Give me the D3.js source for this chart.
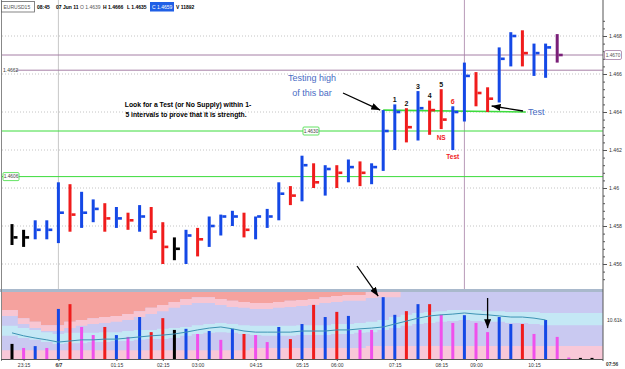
<!DOCTYPE html>
<html>
<head>
<meta charset="utf-8">
<script src="https://cdn.jsdelivr.net/npm/d3@7"></script>
<style>
  body { margin: 0; background: #fff; }
  svg { display: block; font-family: "Liberation Sans", Arial, sans-serif; }
</style>
</head>
<body>
<svg id="chart" width="625" height="369"></svg>
<script>
// 15 minute bars, 23:00 -> 10:45
const times = ["23:00","23:15","23:30","23:45","00:00","00:15","00:30","00:45","01:00","01:15","01:30","01:45",
  "02:00","02:15","02:30","02:45","03:00","03:15","03:30","03:45","04:00","04:15","04:30","04:45",
  "05:00","05:15","05:30","05:45","06:00","06:15","06:30","06:45","07:00","07:15","07:30","07:45",
  "08:00","08:15","08:30","08:45","09:00","09:15","09:30","09:45","10:00","10:15","10:30","10:45"];

const highs = [1.4581,1.4578,1.4583,1.4583,1.4603,1.4602,1.4598,1.4594,1.4592,1.4590,1.4587,1.4591,
  1.4590,1.4582,1.4574,1.4578,1.4579,1.4585,1.4586,1.4588,1.4587,1.4585,1.4589,1.4603,
  1.4601,1.4617,1.4613,1.4612,1.4612,1.4615,1.4614,1.4613,1.4641,1.4644,1.4642,1.4651,
  1.4646,1.4652,1.4643,1.4666,1.4661,1.4653,1.4674,1.4682,1.4683,1.4676,1.4676,1.4681];
const lows = [1.4570,1.4569,1.4573,1.4573,1.4571,1.4577,1.4579,1.4582,1.4577,1.4579,1.4578,1.4577,
  1.4573,1.4560,1.4562,1.4560,1.4564,1.4569,1.4575,1.4580,1.4574,1.4573,1.4579,1.4583,
  1.4591,1.4593,1.4600,1.4596,1.4600,1.4603,1.4601,1.4602,1.4609,1.4620,1.4624,1.4625,
  1.4628,1.4631,1.4620,1.4635,1.4643,1.4640,1.4645,1.4664,1.4664,1.4659,1.4658,1.4666];
const closes = [1.4574,1.4574,1.4578,1.4578,1.4587,1.4586,1.4587,1.4589,1.4584,1.4584,1.4583,1.4585,
  1.4577,1.4569,1.4568,1.4575,1.4573,1.4580,1.4585,1.4585,1.4578,1.4585,1.4585,1.4597,
  1.4596,1.4612,1.4603,1.4610,1.4608,1.4611,1.4608,1.4611,1.4630,1.4640,1.4632,1.4642,
  1.4641,1.4636,1.4640,1.4659,1.4650,1.4647,1.4668,1.4680,1.4671,1.4671,1.4674,1.4670];
const barColors = ["k","k","b","b","b","r","b","b","r","b","r","b","r","r","k","b","r","b","b","b","r","b","b","b",
  "r","b","r","b","r","b","r","b","b","b","r","b","r","r","b","b","r","r","b","b","r","b","b","p"];

// volume in thousands
const volumes = [4.1,3.0,3.5,3.0,13.6,14.9,8.7,6.5,8.7,6.5,6.0,11.4,7.3,11.1,7.9,8.2,6.8,7.6,5.2,8.2,6.8,6.5,4.6,8.7,
  5.4,9.5,14.7,11.4,12.8,11.7,7.9,7.9,16.8,12.0,13.0,14.9,14.9,12.0,9.8,11.9,9.8,7.3,11.4,9.5,9.5,6.8,10.6,6.0,
  0.4,0.3,0.3];
const volColors = ["k","m","b","m","b","r","m","m","r","b","m","b","r","r","k","b","m","b","m","b","r","m","m","b",
  "r","b","r","b","r","b","m","m","b","b","r","b","r","m","m","b","m","m","b","b","r","m","b","m","m","k","k"];
const volMA = [7.1,6.3,5.7,5.2,4.6,4.9,5.2,5.2,5.4,5.4,5.7,6.0,6.3,6.5,6.8,7.3,7.9,8.4,8.7,8.2,7.6,7.3,7.3,7.3,
  7.3,7.6,7.6,7.6,7.9,7.9,8.2,8.4,8.7,9.5,10.3,11.1,11.7,12.0,12.2,12.5,12.2,12.0,11.7,11.4,11.4,11.1,10.61];

// volume background bands (thousands)
const bandSalmon = [13.3,11.1,10.1,9.2,9.2,10.1,10.6,11.1,11.4,11.7,12.2,13.0,13.9,14.7,15.5,16.3,16.8,16.8,16.3,15.8,
  15.5,15.2,15.2,15.5,15.8,16.0,16.3,16.8,17.1,17.4,17.4,18.2,18.2,18.2,18.2,18.2,18.2,18.2,18.2,18.2,
  18.2,18.2,18.2,18.2,18.2,18.2,18.2,18.2];
const bandPink = [11.7,9.5,8.4,7.6,7.6,8.4,9.0,9.5,9.8,10.1,10.6,11.4,12.2,13.0,13.9,14.7,15.2,15.2,14.7,14.1,
  13.9,13.6,13.6,13.9,14.1,14.4,14.7,15.2,15.5,15.8,15.8,16.6,16.8,16.8,18.2,18.2,18.2,18.2,18.2,18.2,
  18.2,18.2,18.2,18.2,18.2,18.2,18.2,18.2];
const bandCyanTop = [9.0,8.4,7.9,7.3,6.8,7.1,7.1,7.1,7.3,7.3,7.6,7.9,7.9,8.2,8.4,8.7,9.2,9.5,9.8,9.5,
  9.2,9.0,9.0,9.0,9.0,9.2,9.2,9.2,9.5,9.5,9.8,10.1,10.6,11.4,12.0,12.5,12.8,13.0,13.3,13.3,
  13.3,13.0,13.0,12.8,12.8,12.8,12.5,12.5];
const bandCyanBottom = [6.3,5.7,5.2,4.6,4.1,4.3,4.3,4.6,4.6,4.9,4.9,5.2,5.4,5.4,5.7,6.3,6.8,7.1,7.3,7.1,
  6.8,6.5,6.3,6.3,6.3,6.5,6.5,6.5,6.8,6.8,7.1,7.3,7.9,8.4,9.0,9.5,9.8,10.1,10.3,10.6,
  10.3,10.1,10.1,9.8,9.8,9.5,9.2,9.2];
const bandLowPink = [2.4,2.4,2.4,2.4,2.4,2.4,2.4,2.4,2.4,2.4,2.4,2.4,2.4,2.4,2.4,2.4,2.4,2.4,2.4,2.4,
  2.4,3.0,3.0,3.0,3.0,3.0,3.0,3.0,3.0,3.0,3.0,3.5,3.5,3.5,3.5,3.5,3.5,3.5,3.5,3.5,
  3.5,3.5,3.5,3.5,3.5,3.5,3.5,3.5];

const priceTicks = [1.456, 1.458, 1.46, 1.462, 1.464, 1.466, 1.468];
const minorTicks = [1.4552,1.4556,1.4564,1.4568,1.4572,1.4576,1.4584,1.4588,1.4592,1.4596,1.4604,1.4608,1.4612,1.4616,
  1.4624,1.4628,1.4632,1.4636,1.4644,1.4648,1.4652,1.4656,1.4664,1.4668,1.4672,1.4676,1.4684,1.4688];
const timeTicks = [1, 4, 9, 13, 16, 21, 25, 28, 33, 37, 40, 45];
const timeTickLabels = ["23:15","6/7","01:15","02:15","03:00","04:15","05:15","06:00","07:15","08:15","09:00","10:15"];

const levelGreen = [1.4630, 1.4606];
const lastClose = 1.4670;
const levelMauve = 1.4662;
const testLevel = [1.4641, 1.4640];
const countLabels = ["1","2","3","4","5","6"];

const colorMap = { b: "#1448e6", r: "#f01c1c", k: "#000000", m: "#f050ec", p: "#7a1f78" };

// layout
const left = 2, right = 603;
const mainBottom = 289;

const svg = d3.select("#chart");
svg.append("rect").attr("width", 625).attr("height", 369).attr("fill", "#fff");

const x = d3.scaleLinear().domain([0, 47]).range([12, 557.2]);
const y = d3.scaleLinear().domain([1.456, 1.468]).range([264, 36]);
const yv = d3.scaleLinear().domain([0, 18.2]).range([359, 292]);
const step = x(1) - x(0);

// ---------- main panel ----------
const main = svg.append("g");

// dotted grid
main.selectAll("line.grid")
  .data(priceTicks)
  .join("line")
  .attr("x1", left).attr("x2", right)
  .attr("y1", d => y(d)).attr("y2", d => y(d))
  .attr("stroke", "#c4c4c4").attr("stroke-dasharray", "1,2");

// session / crosshair verticals
main.append("line").attr("x1", x(4)).attr("x2", x(4)).attr("y1", 0).attr("y2", mainBottom)
  .attr("stroke", "#c8c8c8");
main.append("line").attr("x1", x(39)).attr("x2", x(39)).attr("y1", 0).attr("y2", mainBottom)
  .attr("stroke", "#b89ab8");

// mauve levels
main.append("line").attr("x1", left).attr("x2", right).attr("y1", y(lastClose)).attr("y2", y(lastClose))
  .attr("stroke", "#a57fa5").attr("stroke-width", 1);
main.append("line").attr("x1", 16).attr("x2", right).attr("y1", y(levelMauve)).attr("y2", y(levelMauve))
  .attr("stroke", "#a57fa5").attr("stroke-width", 1);
main.append("text").attr("x", 3).attr("y", y(levelMauve) + 2).attr("font-size", 5)
  .attr("fill", "#444").text(levelMauve.toFixed(4));

// green levels
main.selectAll("line.green")
  .data(levelGreen)
  .join("line")
  .attr("x1", left).attr("x2", right)
  .attr("y1", d => y(d)).attr("y2", d => y(d))
  .attr("stroke", "#3cdc3c").attr("stroke-width", 1);

// test line from bar 32 high
main.append("line")
  .attr("x1", x(32)).attr("y1", y(testLevel[0]))
  .attr("x2", x(44.3)).attr("y2", y(testLevel[1]))
  .attr("stroke", "#3cdc3c").attr("stroke-width", 1.6);

// green level boxes
function levelBox(cx, v, stroke) {
  const g = main.append("g");
  g.append("rect").attr("x", cx - 8).attr("y", y(v) - 4).attr("width", 16).attr("height", 8)
    .attr("fill", "#fff").attr("stroke", stroke).attr("stroke-width", 0.8).attr("rx", 1);
  g.append("text").attr("x", cx).attr("y", y(v) + 1.8).attr("text-anchor", "middle")
    .attr("font-size", 4.8).attr("fill", "#444").text(v.toFixed(4));
}
levelBox(11, levelGreen[1], "#3cdc3c");
levelBox(311, levelGreen[0], "#3cdc3c");

// price bars: high-low stick + close tick
const bars = main.append("g");
bars.selectAll("rect.hl")
  .data(highs)
  .join("rect")
  .attr("x", (d, i) => x(i) - 1.5)
  .attr("y", d => y(d))
  .attr("width", 3)
  .attr("height", (d, i) => y(lows[i]) - y(d))
  .attr("fill", (d, i) => colorMap[barColors[i]]);
bars.selectAll("rect.cl")
  .data(closes)
  .join("rect")
  .attr("x", (d, i) => x(i) + 1.5)
  .attr("y", d => y(d) - 1.3)
  .attr("width", 4)
  .attr("height", 2.6)
  .attr("fill", (d, i) => colorMap[barColors[i]]);

// count labels over bars 33..38
main.selectAll("text.cnt")
  .data(countLabels)
  .join("text")
  .attr("x", (d, i) => x(33 + i))
  .attr("y", (d, i) => y(highs[33 + i]) - 2.5)
  .attr("text-anchor", "middle")
  .attr("font-size", 7).attr("font-weight", "bold")
  .attr("fill", (d, i) => i === 5 ? "#f01c1c" : "#111")
  .text(d => d);
main.append("text").attr("x", x(37)).attr("y", y(lows[37]) + 10.5).attr("text-anchor", "middle")
  .attr("font-size", 6.5).attr("font-weight", "bold").attr("fill", "#f01c1c").text("NS");
main.append("text").attr("x", x(38)).attr("y", y(lows[38]) + 8.5).attr("text-anchor", "middle")
  .attr("font-size", 6.5).attr("font-weight", "bold").attr("fill", "#f01c1c").text("Test");

// annotation text
main.append("text").attr("x", 188).attr("y", 107).attr("text-anchor", "middle")
  .attr("font-size", 6.8).attr("font-weight", "bold").attr("fill", "#000")
  .text("Look for a Test (or No Supply) within 1-");
main.append("text").attr("x", 186).attr("y", 117).attr("text-anchor", "middle")
  .attr("font-size", 6.8).attr("font-weight", "bold").attr("fill", "#000")
  .text("5 intervals to prove that it is strength.");
main.append("text").attr("x", 312).attr("y", 81).attr("text-anchor", "middle")
  .attr("font-size", 9).attr("fill", "#4a6cc4").text("Testing high");
main.append("text").attr("x", 312).attr("y", 96).attr("text-anchor", "middle")
  .attr("font-size", 9).attr("fill", "#4a6cc4").text("of this bar");
main.append("text").attr("x", 528).attr("y", 115)
  .attr("font-size", 9).attr("fill", "#4a6cc4").text("Test");

// arrows
const defs = svg.append("defs");
defs.append("marker").attr("id", "arr")
  .attr("markerUnits", "userSpaceOnUse")
  .attr("markerWidth", 9).attr("markerHeight", 7)
  .attr("refX", 9).attr("refY", 3.5).attr("orient", "auto")
  .append("path").attr("d", "M0,0 L9,3.5 L0,7 Z").attr("fill", "#000");

function arrow(x1, y1, x2, y2) {
  svg.append("line").attr("x1", x1).attr("y1", y1).attr("x2", x2).attr("y2", y2)
    .attr("stroke", "#000").attr("stroke-width", 1.3).attr("marker-end", "url(#arr)");
}
arrow(343, 93, x(32) - 3, y(highs[32]));
arrow(523, 111, x(41) + 4, y(lows[41]) - 6);

// ---------- volume panel ----------
const vol = svg.append("g");
vol.append("rect").attr("x", left).attr("y", yv(18.2)).attr("width", right - left)
  .attr("height", yv(0) - yv(18.2)).attr("fill", "#c9c9f1");

function bandPoints(arr) {
  const pts = arr.map((v, i) => ({ px: i === 0 ? left : x(i) - step / 2, v }));
  pts.push({ px: right, v: arr[arr.length - 1] });
  return pts;
}
function band(topArr, botArr, fill) {
  const top = bandPoints(topArr), bot = bandPoints(botArr);
  const area = d3.area()
    .x(d => d.px)
    .y0((d, i) => yv(bot[i].v))
    .y1((d, i) => yv(top[i].v))
    .curve(d3.curveStepAfter);
  vol.append("path").datum(top).attr("d", area).attr("fill", fill);
}
const topLine = bandSalmon.map(() => 18.2);
const zeroLine = bandSalmon.map(() => 0);
band(topLine, bandSalmon, "#f5a29e");
band(bandSalmon, bandPink, "#f8c6d2");
band(bandCyanTop, bandCyanBottom, "#c4e8f5");
band(bandLowPink, zeroLine, "#f8c8d8");

// volume bars
vol.selectAll("rect.v")
  .data(volumes)
  .join("rect")
  .attr("x", (d, i) => x(i) - 1.5)
  .attr("y", d => yv(d))
  .attr("width", 3)
  .attr("height", d => yv(0) - yv(d))
  .attr("fill", (d, i) => colorMap[volColors[i]]);

// volume average
vol.append("path")
  .datum(volMA)
  .attr("fill", "none")
  .attr("stroke", "#3d93b4")
  .attr("stroke-width", 1)
  .attr("d", d3.line().x((d, i) => x(i)).y(d => yv(d)));

// separator between panels
svg.append("rect").attr("x", 0).attr("y", mainBottom).attr("width", right).attr("height", 3)
  .attr("fill", "#a9b9cc");

arrow(357, 266, x(32) - 5, yv(volumes[32]) - 1);
arrow(x(41), 298, x(41), yv(volumes[41]) - 4);

// ---------- axes ----------
const axR = svg.append("g").attr("transform", `translate(${right},0)`)
  .call(d3.axisRight(y).tickValues(priceTicks).tickSize(4).tickPadding(2).tickFormat(d3.format(".3~f")));
axR.select(".domain").remove();
axR.selectAll("text").attr("font-size", 5.2).attr("fill", "#333").attr("font-family", "Liberation Sans, Arial");
axR.selectAll("line").attr("stroke", "#555");
const axMinor = svg.append("g").attr("transform", `translate(${right},0)`)
  .call(d3.axisRight(y).tickValues(minorTicks).tickSize(2).tickFormat(""));
axMinor.select(".domain").remove();
axMinor.selectAll("line").attr("stroke", "#555");

svg.append("line").attr("x1", right).attr("x2", right).attr("y1", 0).attr("y2", 361)
  .attr("stroke", "#555").attr("stroke-width", 1);
svg.append("line").attr("x1", 1.5).attr("x2", 1.5).attr("y1", 0).attr("y2", 361)
  .attr("stroke", "#888").attr("stroke-width", 1);

// last close label
svg.append("rect").attr("x", right + 1.5).attr("y", y(lastClose) - 4.5).attr("width", 17).attr("height", 9)
  .attr("fill", "#fff").attr("stroke", "#a57fa5").attr("stroke-width", 0.8).attr("rx", 1.5);
svg.append("text").attr("x", right + 10).attr("y", y(lastClose) + 1.8).attr("text-anchor", "middle")
  .attr("font-size", 4.8).attr("fill", "#555").text(lastClose.toFixed(4));

// volume average label
svg.append("text").attr("x", right + 4).attr("y", yv(volMA[volMA.length - 1]) + 2)
  .attr("font-size", 5).attr("fill", "#333").text(volMA[volMA.length - 1].toFixed(2) + "k");

// time axis
const axB = svg.append("g").attr("transform", `translate(0,${yv(0)})`)
  .call(d3.axisBottom(x).tickValues(timeTicks).tickSize(2).tickPadding(2)
    .tickFormat((d, i) => timeTickLabels[i]));
axB.select(".domain").remove();
axB.selectAll("text").attr("font-size", 5).attr("fill", "#333").attr("font-family", "Liberation Sans, Arial")
  .attr("font-weight", d => d === 4 ? "bold" : "normal");
axB.selectAll("line").attr("stroke", "#555");
svg.append("line").attr("x1", 1).attr("x2", right).attr("y1", yv(0) + 0.5).attr("y2", yv(0) + 0.5)
  .attr("stroke", "#555");
svg.append("text").attr("x", right + 3).attr("y", 366).attr("font-size", 4.8).attr("font-weight", "bold")
  .attr("fill", "#333").text("07:56");

// ---------- header ----------
const hdr = svg.append("g").attr("font-size", 5).attr("fill", "#000");
hdr.append("rect").attr("x", 1.5).attr("y", 1.5).attr("width", 33).attr("height", 10.5)
  .attr("fill", "#fff").attr("stroke", "#666").attr("stroke-width", 0.8);
hdr.append("text").attr("x", 3.5).attr("y", 9).attr("font-size", 5).attr("fill", "#555").text("EURUSD15");
hdr.append("text").attr("x", 37).attr("y", 9).attr("font-weight", "bold").text(times[39]);
hdr.append("text").attr("x", 56).attr("y", 9).attr("font-weight", "bold").text("07 Jun 11");
hdr.append("text").attr("x", 80).attr("y", 9).attr("fill", "#555").text("O 1.4639");
hdr.append("text").attr("x", 103).attr("y", 9).attr("font-weight", "bold").text("H " + highs[39].toFixed(4));
hdr.append("text").attr("x", 127).attr("y", 9).attr("font-weight", "bold").text("L " + lows[39].toFixed(4));
hdr.append("rect").attr("x", 150).attr("y", 2).attr("width", 24).attr("height", 9.5).attr("fill", "#1f5fe6");
hdr.append("text").attr("x", 152).attr("y", 9).attr("fill", "#fff").text("C " + closes[39].toFixed(4));
hdr.append("text").attr("x", 176).attr("y", 9).attr("font-weight", "bold").text("V 11892");
</script>
</body>
</html>
